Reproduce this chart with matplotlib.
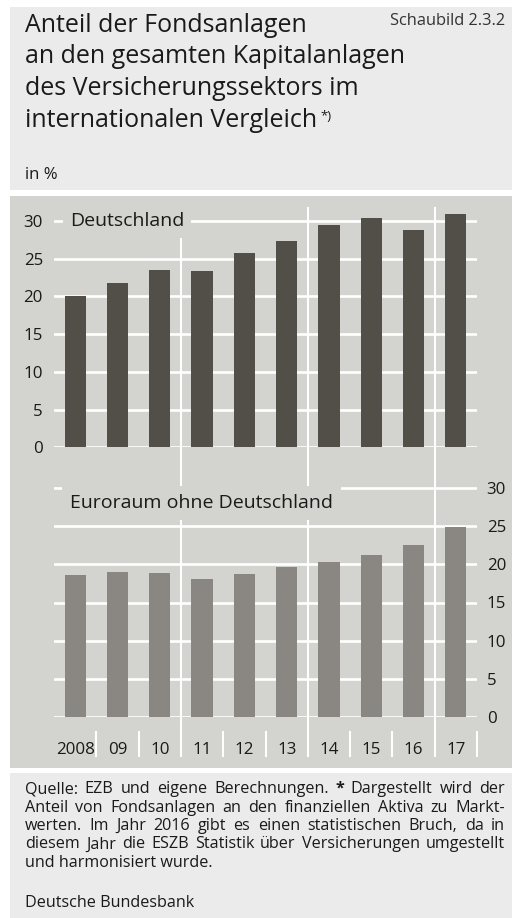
import matplotlib
matplotlib.use("Agg")
import matplotlib.pyplot as plt
import matplotlib.transforms as mtransforms
from matplotlib.patches import Rectangle

plt.rcParams['font.family'] = ['Open Sans', 'DejaVu Sans']

# ---------------- data ----------------
years = ['2008', '09', '10', '11', '12', '13', '14', '15', '16', '17']
deutschland = [20.0, 21.8, 23.5, 23.4, 25.7, 27.3, 29.5, 30.4, 28.8, 30.9]
euroraum = [18.6, 19.0, 18.9, 18.1, 18.7, 19.7, 20.3, 21.2, 22.6, 24.9]
yticks = [0, 5, 10, 15, 20, 25, 30]
breaks = [2.5, 5.5, 8.5]

W, H = 516, 918
fig = plt.figure(figsize=(W / 100, H / 100), dpi=100)
PX = mtransforms.Affine2D().scale(1 / W, -1 / H).translate(0, 1) + fig.transFigure

PANEL_LIGHT = '#ebebeb'
PANEL_CHART = '#d3d3cf'
DARK_BAR = '#524f49'
GREY_BAR = '#8a8782'
TXT = '#1a1a1a'

# background panels
fig.add_artist(Rectangle((10, 7), 502, 183, transform=PX, facecolor=PANEL_LIGHT, edgecolor='none', zorder=-10))
fig.add_artist(Rectangle((10, 196), 502, 572, transform=PX, facecolor=PANEL_CHART, edgecolor='none', zorder=-10))
fig.add_artist(Rectangle((10, 773), 502, 145, transform=PX, facecolor=PANEL_LIGHT, edgecolor='none', zorder=-10))


def fig_rect(x0, x1, ytop, ybot):
    return [x0 / W, 1 - ybot / H, (x1 - x0) / W, (ybot - ytop) / H]


X0, X1 = 54, 477
# top axes: y=0 at 447.3, 30 at 221
t_zero, t_30 = 447.3, 221.0
t_ppu = (t_zero - t_30) / 30
t_ymax = 32
t_top = t_zero - t_ymax * t_ppu
ax1 = fig.add_axes(fig_rect(X0, X1, t_top, t_zero))
# bottom axes: y=0 at 716.7, 30 at 488.3
b_zero, b_30 = 716.7, 488.3
b_ppu = (b_zero - b_30) / 30
b_ymax = 31
b_top = b_zero - b_ymax * b_ppu
ax2 = fig.add_axes(fig_rect(X0, X1, b_top, b_zero))
ax2.set_zorder(1)

x = list(range(len(years)))
ax1.bar(x, deutschland, width=0.5, color=DARK_BAR, zorder=3)
ax2.bar(x, euroraum, width=0.5, color=GREY_BAR, zorder=3)

GRID_LW = 1.9
VLW = 1.5
TICK_FS = 12.2
for ax, ymax in ((ax1, t_ymax), (ax2, b_ymax)):
    ax.set_facecolor('none')
    ax.set_xlim(-0.5, len(years) - 0.5)
    ax.set_ylim(0, ymax)
    ax.set_yticks(yticks)
    for s in ax.spines.values():
        s.set_visible(False)
    for yv in yticks:
        ax.axhline(yv, color='white', lw=GRID_LW, zorder=1)
    ax.tick_params(axis='both', length=0, labelsize=TICK_FS, labelcolor=TXT)

ax1.set_xticks([])
ax1.tick_params(axis='y', pad=8)
ax2.yaxis.tick_right()
ax2.tick_params(axis='y', pad=7)
ax2.set_xticks(x)
ax2.set_xticklabels(years)
ax2.tick_params(axis='x', pad=18)

# vertical separator lines
gap_mid = 466.0
def frac(ax_top, ax_bot, ypx):
    return (ax_bot - ypx) / (ax_bot - ax_top)

for b in breaks:
    ax1.axvline(b, ymin=frac(t_top, t_zero, gap_mid), ymax=frac(t_top, t_zero, 208),
                color='white', lw=VLW, clip_on=False, zorder=2)
    ax2.axvline(b, ymin=frac(b_top, b_zero, 756), ymax=frac(b_top, b_zero, gap_mid),
                color='white', lw=VLW, clip_on=False, zorder=2)
# short tick separators on the bottom axis
for b in [i + 0.5 for i in range(len(years))]:
    ax2.axvline(b, ymin=frac(b_top, b_zero, 756), ymax=frac(b_top, b_zero, 731.5),
                color='white', lw=VLW, clip_on=False, zorder=2)

# panel labels
def ax_pt(ax_top, ax_bot, xpx, ypx):
    return ((xpx - X0) / (X1 - X0), (ax_bot - ypx) / (ax_bot - ax_top))

lx, ly = ax_pt(t_top, t_zero, 70, 221.5)
ax1.text(lx, ly, 'Deutschland', transform=ax1.transAxes, fontsize=14, color=TXT,
         va='center', ha='left', zorder=5,
         bbox=dict(facecolor=PANEL_CHART, edgecolor='none', pad=5))
lx, ly = ax_pt(b_top, b_zero, 70, 503)
ax2.text(lx, ly, 'Euroraum ohne Deutschland', transform=ax2.transAxes, fontsize=14, color=TXT,
         va='center', ha='left', zorder=5,
         bbox=dict(facecolor=PANEL_CHART, edgecolor='none', pad=6))

# ---------------- header ----------------
title_lines = ['Anteil der Fondsanlagen', 'an den gesamten Kapitalanlagen',
               'des Versicherungssektors im', 'internationalen Vergleich']
title_base = [31.7, 63.4, 95.1, 126.8]
tl = []
for s, yb in zip(title_lines, title_base):
    tl.append(fig.text(25, yb, s, transform=PX, fontsize=18, color=TXT, va='baseline', ha='left'))
fig.text(505, 25, 'Schaubild 2.3.2', transform=PX, fontsize=11.8, color='#333333', va='baseline', ha='right')
fig.text(25, 179, 'in %', transform=PX, fontsize=12, color=TXT, va='baseline', ha='left')

fig.canvas.draw()
renderer = fig.canvas.get_renderer()
ext = tl[-1].get_window_extent(renderer)
fig.text(25 + ext.width + 3, 120, '*)', transform=PX, fontsize=9.5, color=TXT, va='baseline', ha='left')

# ---------------- footnote ----------------
FS = 11.6
foot_lines = [
    [('Quelle:', False), ('EZB', False), ('und', False), ('eigene', False), ('Berechnungen.', False),
     ('*', True), ('Dargestellt', False), ('wird', False), ('der', False)],
    [(w, False) for w in 'Anteil von Fondsanlagen an den finanziellen Aktiva zu Markt-'.split()],
    [(w, False) for w in 'werten. Im Jahr 2016 gibt es einen statistischen Bruch, da in'.split()],
    [(w, False) for w in 'diesem Jahr die ESZB Statistik über Versicherungen umgestellt'.split()],
]
foot_base = [793, 811.5, 830, 848.5]
for words, yb in zip(foot_lines, foot_base):
    texts = [fig.text(0, yb, w, transform=PX, fontsize=FS, color=TXT, va='baseline', ha='left',
                      fontweight='bold' if bold else 'normal') for w, bold in words]
    widths = [t.get_window_extent(renderer).width for t in texts]
    gap = ((505 - 25) - sum(widths)) / (len(texts) - 1)
    xx = 25
    for t, wdt in zip(texts, widths):
        t.set_x(xx)
        xx += wdt + gap
fig.text(25, 867, 'und harmonisiert wurde.', transform=PX, fontsize=FS, color=TXT, va='baseline', ha='left')
fig.text(25, 907, 'Deutsche Bundesbank', transform=PX, fontsize=FS, color=TXT, va='baseline', ha='left')

fig.savefig('out.png', dpi=100, facecolor='white')
